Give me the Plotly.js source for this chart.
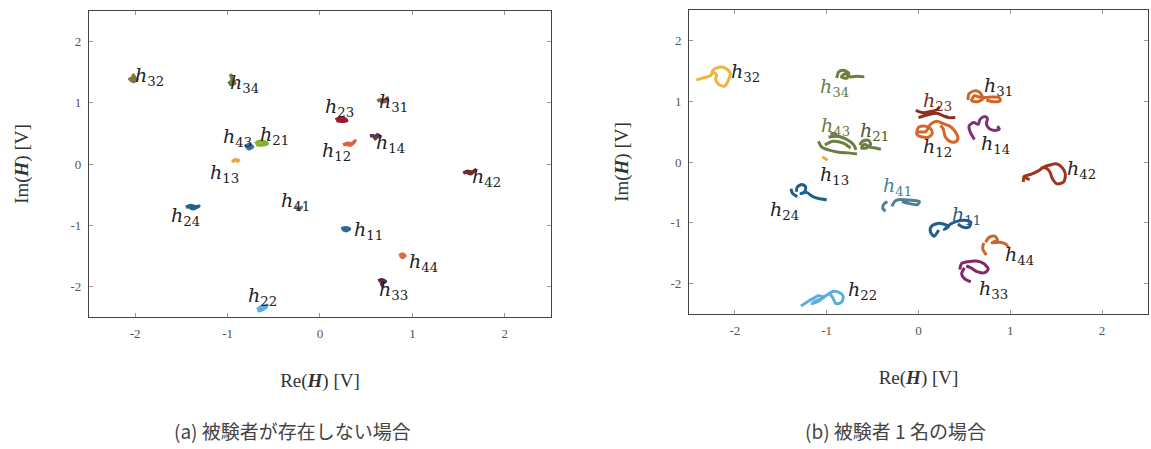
<!DOCTYPE html>
<html><head><meta charset="utf-8">
<script src="https://cdn.plot.ly/plotly-3.0.1.min.js"></script>
<style>html,body{margin:0;padding:0;background:#fff}#c{width:1151px;height:449px}</style>
</head><body><div id="c"></div>
<script>
// ---- data: channel names ----
const names = ['h11','h12','h13','h14','h21','h22','h23','h24','h31','h32','h33','h34','h41','h42','h43','h44'];
const tickVals = [-2,-1,0,1,2];
const tickText = ['-2','-1','0','1','2'];

// ---- (a) no subject: [Re, Im] samples ----
const L_h11 = [[0.23,-1.06],[0.28,-1.04],[0.32,-1.06],[0.28,-1.09],[0.25,-1.07]];
const L_h12 = [[0.25,0.31],[0.30,0.34],[0.35,0.33],[0.38,0.38],[0.33,0.31],[0.27,0.33]];
const L_h13 = [[-0.95,0.03],[-0.92,0.07],[-0.88,0.06],[-0.91,0.04]];
const L_h14 = [[0.54,0.46],[0.59,0.46],[0.60,0.41],[0.62,0.48],[0.65,0.45],[0.57,0.44]];
const L_h21 = [[-0.70,0.33],[-0.66,0.37],[-0.60,0.36],[-0.57,0.33],[-0.63,0.31],[-0.69,0.32]];
const L_h22 = [[-0.68,-2.38],[-0.63,-2.33],[-0.57,-2.31],[-0.60,-2.36],[-0.66,-2.40],[-0.62,-2.35]];
const L_h23 = [[0.17,0.72],[0.21,0.75],[0.27,0.74],[0.29,0.71],[0.23,0.70],[0.18,0.71]];
const L_h24 = [[-1.45,-0.71],[-1.40,-0.68],[-1.35,-0.70],[-1.31,-0.69],[-1.38,-0.73],[-1.42,-0.70]];
const L_h31 = [[0.62,1.03],[0.66,1.05],[0.70,1.03],[0.73,1.08],[0.71,1.02],[0.65,1.02]];
const L_h32 = [[-2.07,1.37],[-2.03,1.41],[-1.98,1.38],[-2.02,1.35],[-2.06,1.39],[-2.00,1.40],[-2.03,1.47]];
const L_h33 = [[0.63,-1.91],[0.67,-1.89],[0.71,-1.92],[0.67,-1.95],[0.68,-2.00],[0.66,-1.93]];
const L_h34 = [[-0.99,1.31],[-0.96,1.35],[-0.92,1.32],[-0.97,1.30],[-0.95,1.38],[-0.97,1.47]];
const L_h41 = [[-0.27,-0.70],[-0.23,-0.73],[-0.20,-0.71],[-0.24,-0.75]];
const L_h42 = [[1.55,-0.15],[1.60,-0.12],[1.65,-0.13],[1.68,-0.10],[1.63,-0.16],[1.58,-0.13]];
const L_h43 = [[-0.81,0.28],[-0.77,0.32],[-0.73,0.28],[-0.77,0.25],[-0.80,0.30]];
const L_h44 = [[0.86,-1.50],[0.89,-1.47],[0.92,-1.50],[0.89,-1.53],[0.87,-1.49]];

// ---- (b) one subject: [Re, Im] trajectories (null = break) ----
const R_h11 = [[0.22,-1.12],[0.17,-1.22],[0.13,-1.15],[0.14,-1.06],[0.21,-1.01],[0.27,-1.02],[0.33,-1.06],[0.28,-1.11],[0.35,-1.02],[0.41,-0.98],[0.50,-0.96],[0.57,-0.99],[0.55,-1.07],[0.48,-1.07],[0.43,-1.02]];
const R_h12 = [[-0.02,0.49],[0.00,0.57],[0.07,0.59],[0.13,0.55],[0.15,0.47],[0.11,0.41],[0.04,0.41],[-0.01,0.44],[-0.02,0.49],[0.08,0.50],[0.13,0.62],[0.20,0.67],[0.27,0.63],[0.34,0.59],[0.40,0.50],[0.43,0.39],[0.40,0.33],[0.34,0.34],[0.29,0.42],[0.27,0.54],[0.24,0.60]];
const R_h13 = [[-1.05,0.08],[-1.02,0.06],[-0.99,0.03]];
const R_h14 = [[0.61,0.37],[0.57,0.47],[0.55,0.59],[0.60,0.65],[0.65,0.62],[0.67,0.70],[0.72,0.75],[0.75,0.72],[0.74,0.62],[0.77,0.55],[0.83,0.52],[0.88,0.54],[0.86,0.59]];
const R_h21 = [[-0.64,0.28],[-0.61,0.34],[-0.55,0.36],[-0.52,0.29],[-0.57,0.23],[-0.62,0.23],[-0.59,0.29],[-0.52,0.24],[-0.47,0.23],[-0.41,0.21]];
const R_h22 = [[-1.28,-2.37],[-1.20,-2.29],[-1.14,-2.24],[-1.09,-2.20],[-1.03,-2.23],[-1.11,-2.28],[-1.16,-2.33],[-1.08,-2.28],[-1.01,-2.20],[-0.93,-2.13],[-0.86,-2.15],[-0.82,-2.21],[-0.84,-2.31],[-0.90,-2.33],[-0.93,-2.24],[-0.96,-2.18]];
const R_h23 = [[-0.03,0.85],[0.05,0.81],[0.13,0.83],[0.20,0.86],[0.23,0.91],null,[0.00,0.73],[0.11,0.78],[0.20,0.80],[0.27,0.76],[0.33,0.73],[0.40,0.73]];
const R_h24 = [[-1.39,-0.44],[-1.37,-0.52],[-1.32,-0.57],null,[-1.33,-0.49],[-1.32,-0.41],[-1.27,-0.37],[-1.23,-0.41],[-1.24,-0.49],[-1.28,-0.52],[-1.22,-0.50],[-1.15,-0.57],[-1.09,-0.60],[-1.00,-0.62]];
const R_h31 = [[0.54,1.02],[0.55,1.12],[0.61,1.17],[0.67,1.14],[0.70,1.04],[0.64,0.99],[0.58,1.01],[0.61,1.09],[0.66,1.07],[0.73,1.06],[0.80,1.07],[0.88,1.06],[0.89,1.01],[0.82,0.99],[0.74,1.02]];
const R_h32 = [[-2.42,1.35],[-2.35,1.38],[-2.26,1.43],[-2.24,1.51],[-2.17,1.56],[-2.10,1.54],[-2.05,1.46],[-2.07,1.35],[-2.11,1.25],[-2.17,1.27],[-2.21,1.35],[-2.20,1.43],[-2.24,1.48]];
const R_h33 = [[0.45,-1.77],[0.47,-1.67],[0.54,-1.64],[0.63,-1.63],[0.71,-1.67],[0.76,-1.76],[0.72,-1.82],[0.63,-1.80],[0.57,-1.74],[0.52,-1.71],null,[0.50,-1.74],[0.47,-1.84],[0.50,-1.92],[0.57,-1.97]];
const R_h34 = [[-0.89,1.38],[-0.87,1.48],[-0.82,1.51],[-0.76,1.46],[-0.78,1.38],[-0.84,1.40],[-0.80,1.45],[-0.74,1.40],[-0.67,1.41],[-0.59,1.40]];
const R_h41 = [[-0.34,-0.65],[-0.38,-0.70],[-0.39,-0.76],[-0.36,-0.81],null,[-0.29,-0.73],[-0.26,-0.65],[-0.22,-0.62],[-0.15,-0.62],[-0.07,-0.63],[0.01,-0.65],[-0.01,-0.70],[-0.11,-0.68],[-0.18,-0.65]];
const R_h42 = [[1.14,-0.33],[1.15,-0.23],null,[1.21,-0.29],[1.15,-0.24],[1.23,-0.20],[1.30,-0.15],[1.37,-0.08],[1.43,-0.05],[1.50,-0.03],[1.57,-0.10],[1.60,-0.21],[1.58,-0.33],[1.51,-0.36],[1.46,-0.28],[1.43,-0.16],[1.39,-0.10],[1.33,-0.10]];
const R_h43 = [[-1.09,0.34],[-1.05,0.24],[-0.98,0.20],[-0.87,0.16],[-0.76,0.15],[-0.67,0.13],null,[-0.98,0.41],[-0.87,0.42],[-0.78,0.37],[-0.71,0.29],[-0.68,0.20],null,[-1.02,0.28],[-0.93,0.34],[-0.82,0.31],[-0.74,0.23],null,[-0.96,0.46],[-0.91,0.47],[-0.89,0.41]];
const R_h44 = [[0.71,-1.33],[0.70,-1.43],[0.74,-1.53],null,[0.73,-1.32],[0.77,-1.24],[0.83,-1.22],[0.86,-1.28],[0.80,-1.33],[0.88,-1.32],[0.95,-1.35],[0.98,-1.41]];

// ---- styles ----
const colL = ['#2a6a9a','#d9623a','#e8a93a','#5e3a4f','#88b02a','#5ab0e0','#9e1a2a','#25608a','#8e5e4e','#85743f','#5a2650','#6e7d3a','#5a7b8c','#6b2c35','#2e72a8','#e06840'];
const colR = ['#1f5f8e','#d5652a','#e8b040','#7e2f7e','#6b7d40','#5aaede','#8b3020','#1f5f8e','#d0652a','#efb33f','#7e2a6a','#6b7d40','#4f7f95','#a0341e','#6b7d40','#c8692a'];
const labColR = ['#2c5a80','#222','#222','#222','#4a5530','#222','#7a2a20','#222','#222','#222','#222','#6b7d40','#4f7f95','#222','#6b7d40','#222'];
const labPosL = [[0.52,-1.09],[0.18,0.20],[-1.03,-0.15],[0.76,0.33],[-0.49,0.46],[-0.62,-2.16],[0.21,0.93],[-1.45,-0.85],[0.80,1.01],[-1.85,1.43],[0.80,-2.06],[-0.82,1.32],[-0.27,-0.61],[1.80,-0.22],[-0.89,0.43],[1.12,-1.61]];
const labPosR = [[0.52,-0.88],[0.21,0.24],[-0.92,-0.23],[0.84,0.29],[-0.48,0.50],[-0.61,-2.12],[0.21,0.99],[-1.46,-0.80],[0.87,1.25],[-1.88,1.48],[0.82,-2.10],[-0.92,1.22],[-0.23,-0.41],[1.78,-0.13],[-0.90,0.59],[1.10,-1.53]];

const Ldata = [L_h11,L_h12,L_h13,L_h14,L_h21,L_h22,L_h23,L_h24,L_h31,L_h32,L_h33,L_h34,L_h41,L_h42,L_h43,L_h44];
const Rdata = [R_h11,R_h12,R_h13,R_h14,R_h21,R_h22,R_h23,R_h24,R_h31,R_h32,R_h33,R_h34,R_h41,R_h42,R_h43,R_h44];

const traces = [];
names.forEach((n,i)=>{
  const a = Ldata[i];
  traces.push({type:'scatter',mode:'lines',name:n,xaxis:'x',yaxis:'y',
    x:a.map(p=>p?p[0]:null), y:a.map(p=>p?p[1]:null),
    line:{color:colL[i],width:3.5,shape:'spline',smoothing:0.6},hoverinfo:'name'});
});
names.forEach((n,i)=>{
  const a = Rdata[i];
  traces.push({type:'scatter',mode:'lines',name:n,xaxis:'x2',yaxis:'y2',
    x:a.map(p=>p?p[0]:null), y:a.map(p=>p?p[1]:null),
    line:{color:colR[i],width:3,shape:'spline',smoothing:0.8},hoverinfo:'name'});
});

const labelText = n => '<i>h</i><sub>'+n.slice(1)+'</sub>';
const labFont = 'DejaVu Serif';
const annotations = [];
names.forEach((n,i)=>{
  annotations.push({xref:'x',yref:'y',x:labPosL[i][0],y:labPosL[i][1],text:labelText(n),showarrow:false,
    xanchor:'center',yanchor:'middle',font:{family:labFont,size:19,color:'#222'}});
  annotations.push({xref:'x2',yref:'y2',x:labPosR[i][0],y:labPosR[i][1],text:labelText(n),showarrow:false,
    xanchor:'center',yanchor:'middle',font:{family:labFont,size:19,color:labColR[i]}});
});
const capFont = {family:'Noto Sans CJK JP',size:19,color:'#444'};
annotations.push({xref:'paper',yref:'paper',x:0.2537,y:0.006,xanchor:'center',yanchor:'bottom',text:'(a) 被験者が存在しない場合',showarrow:false,font:capFont});
annotations.push({xref:'paper',yref:'paper',x:0.7776,y:0.006,xanchor:'center',yanchor:'bottom',text:'(b) 被験者 1 名の場合',showarrow:false,font:capFont});

function axis(domain, anchor, title, standoff){
  return {domain:domain, anchor:anchor, range:[-2.5,2.5], tickvals:tickVals, ticktext:tickText,
    ticks:'inside', ticklen:4, tickcolor:'#999', mirror:'ticks', showline:true, linecolor:'#444', linewidth:1,
    showgrid:false, zeroline:false, ticklabelstandoff:4,
    tickfont:{family:'Liberation Serif',size:13,color:'#555'},
    title:{text:title, standoff:standoff, font:{family:'Liberation Serif',size:19,color:'#333'}}};
}
const xt = 'Re(<b><i>H</i></b>) [V]', yt = 'Im(<b><i>H</i></b>) [V]';
const layout = {
  width:1151, height:449, margin:{l:0,r:0,t:0,b:0}, showlegend:false,
  paper_bgcolor:'#fff', plot_bgcolor:'#fff',
  xaxis: axis([0.0773,0.4787],'y', xt, 34),
  yaxis: axis([0.294,0.9755],'x', yt, 36),
  xaxis2: axis([0.5986,0.9974],'y2', xt, 34),
  yaxis2: axis([0.3007,0.9777],'x2', yt, 36),
  annotations: annotations
};
Plotly.newPlot('c', traces, layout, {staticPlot:true});
</script></body></html>
